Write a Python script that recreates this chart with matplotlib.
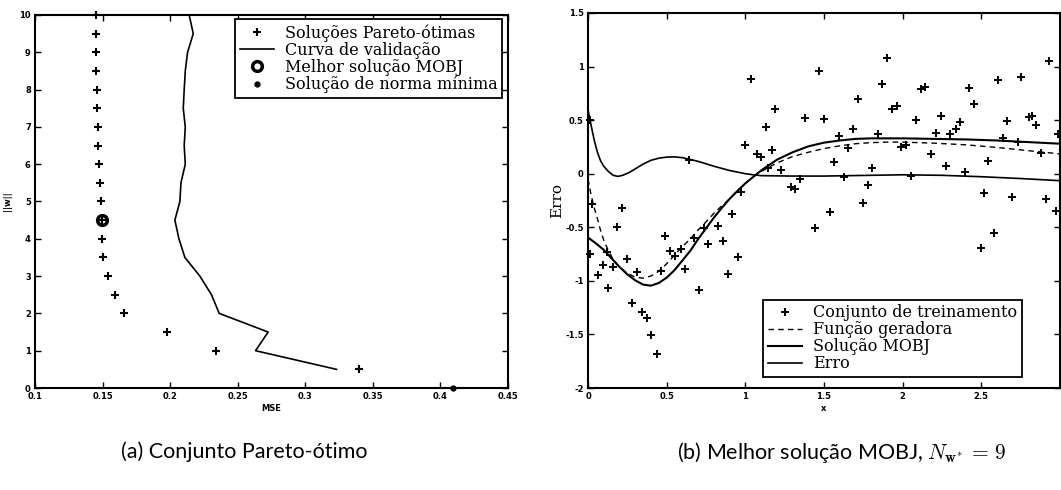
import matplotlib
matplotlib.use("Agg")
import matplotlib.pyplot as plt

plt.rcParams["mathtext.fontset"] = "cm"

# ---------------- (a) Pareto set ----------------
pareto_norm = [10, 9.5, 9, 8.5, 8, 7.5, 7, 6.5, 6, 5.5, 5, 4.5, 4, 3.5, 3, 2.5, 2, 1.5, 1, 0.5]
pareto_mse = [0.1449, 0.1449, 0.1450, 0.1453, 0.1456, 0.1458, 0.1463, 0.1466, 0.1470, 0.1480,
              0.1486, 0.1493, 0.1493, 0.1500, 0.1542, 0.1592, 0.1660, 0.1980, 0.2336, 0.3396]

valid_norm = [10, 9.5, 9, 8.5, 8, 7.5, 7, 6.5, 6, 5.5, 5, 4.5, 4, 3.5, 3, 2.5, 2, 1.5, 1, 0.5]
valid_mse = [0.2141, 0.2171, 0.2129, 0.2112, 0.2104, 0.2097, 0.2112, 0.2104, 0.2112, 0.2080,
             0.2072, 0.2035, 0.2065, 0.2109, 0.2220, 0.2306, 0.2363, 0.2725, 0.2632, 0.3231]

best_mse, best_norm = 0.1493, 4.5
minnorm_mse, minnorm_norm = 0.4093, 0.0

a_xticks = [0.1, 0.15, 0.2, 0.25, 0.3, 0.35, 0.4, 0.45]
a_xticklabels = ["0.1", "0.15", "0.2", "0.25", "0.3", "0.35", "0.4", "0.45"]
a_yticks = [0, 1, 2, 3, 4, 5, 6, 7, 8, 9, 10]

# ---------------- (b) Best MOBJ solution ----------------
train_x = [0.010, 0.025, 0.010, 0.066, 0.097, 0.119, 0.130, 0.160, 0.183, 0.215,
           0.247, 0.280, 0.312, 0.342, 0.372, 0.403, 0.436, 0.466, 0.491, 0.522,
           0.551, 0.590, 0.615, 0.640, 0.675, 0.705, 0.735, 0.765, 0.828, 0.857,
           0.891, 0.917, 0.952, 0.975, 1.000, 1.034, 1.072, 1.097, 1.132, 1.143,
           1.168, 1.190, 1.228, 1.293, 1.315, 1.350, 1.378, 1.445, 1.470, 1.498,
           1.536, 1.562, 1.593, 1.625, 1.655, 1.687, 1.714, 1.751, 1.782, 1.808,
           1.842, 1.868, 1.900, 1.932, 1.964, 1.991, 2.023, 2.055, 2.087, 2.114,
           2.144, 2.183, 2.210, 2.242, 2.274, 2.304, 2.336, 2.366, 2.395, 2.423,
           2.453, 2.496, 2.519, 2.544, 2.583, 2.604, 2.637, 2.666, 2.698, 2.731,
           2.750, 2.800, 2.820, 2.850, 2.880, 2.910, 2.930, 2.972, 2.990]
train_y = [0.50, -0.28, -0.75, -0.95, -0.85, -0.73, -1.07, -0.87, -0.50, -0.32,
           -0.80, -1.21, -0.92, -1.29, -1.35, -1.51, -1.68, -0.91, -0.58, -0.72,
           -0.77, -0.70, -0.89, 0.13, -0.60, -1.09, -0.51, -0.66, -0.49, -0.63,
           -0.94, -0.38, -0.78, -0.17, 0.27, 0.88, 0.18, 0.16, 0.44, 0.05,
           0.22, 0.60, 0.03, -0.12, -0.14, -0.05, 0.52, -0.51, 0.96, 0.51,
           -0.36, 0.11, 0.355, -0.03, 0.24, 0.42, 0.70, -0.27, -0.11, 0.05,
           0.37, 0.84, 1.08, 0.60, 0.63, 0.245, 0.27, -0.02, 0.50, 0.79,
           0.81, 0.18, 0.38, 0.54, 0.07, 0.375, 0.42, 0.48, 0.02, 0.80,
           0.65, -0.69, -0.18, 0.12, -0.55, 0.87, 0.335, 0.49, -0.22, 0.30,
           0.90, 0.525, 0.54, 0.45, 0.19, -0.24, 1.05, -0.35, 0.375]

gen_x = [0.0, 0.02, 0.04, 0.06, 0.08, 0.10, 0.13, 0.16, 0.20, 0.25, 0.30, 0.35, 0.40,
         0.45, 0.50, 0.55, 0.60, 0.65, 0.70, 0.75, 0.80, 0.85, 0.90, 0.95, 1.00, 1.05,
         1.10, 1.20, 1.30, 1.40, 1.50, 1.60, 1.70, 1.80, 1.90, 2.00, 2.20, 2.40, 2.60,
         2.80, 3.00]
gen_y = [-0.05, -0.20, -0.32, -0.42, -0.53, -0.62, -0.72, -0.80, -0.87, -0.93, -0.965,
         -0.975, -0.955, -0.91, -0.84, -0.76, -0.68, -0.61, -0.525, -0.45, -0.37, -0.30,
         -0.235, -0.16, -0.09, -0.03, 0.02, 0.10, 0.16, 0.20, 0.235, 0.26, 0.28, 0.29,
         0.295, 0.295, 0.285, 0.27, 0.245, 0.215, 0.185]

mobj_x = [0.0, 0.05, 0.10, 0.15, 0.20, 0.25, 0.30, 0.35, 0.40, 0.45, 0.50, 0.55, 0.60,
          0.65, 0.70, 0.75, 0.80, 0.85, 0.90, 0.95, 1.00, 1.05, 1.10, 1.20, 1.30, 1.40,
          1.50, 1.60, 1.70, 1.80, 2.00, 2.20, 2.40, 2.60, 2.80, 3.00]
mobj_y = [-0.595, -0.65, -0.71, -0.79, -0.87, -0.94, -0.995, -1.035, -1.045, -1.02,
          -0.97, -0.90, -0.81, -0.72, -0.61, -0.51, -0.41, -0.32, -0.235, -0.16, -0.09,
          -0.03, 0.03, 0.13, 0.20, 0.255, 0.29, 0.31, 0.325, 0.33, 0.33, 0.325, 0.32,
          0.31, 0.295, 0.28]

err_x = [0.0, 0.02, 0.04, 0.06, 0.08, 0.10, 0.13, 0.16, 0.19, 0.22, 0.26, 0.30, 0.35,
         0.40, 0.45, 0.50, 0.55, 0.60, 0.65, 0.70, 0.75, 0.80, 0.85, 0.90, 0.95, 1.00,
         1.05, 1.10, 1.30, 1.50, 2.00, 2.25, 2.50, 2.75, 3.00]
err_y = [0.60, 0.45, 0.31, 0.20, 0.12, 0.07, 0.02, -0.015, -0.025, -0.015, 0.01, 0.045,
         0.09, 0.125, 0.145, 0.155, 0.157, 0.15, 0.133, 0.115, 0.093, 0.07, 0.05, 0.03,
         0.015, 0.0, -0.01, -0.018, -0.022, -0.022, -0.01, -0.015, -0.028, -0.045, -0.065]

b_xticks = [0, 0.5, 1, 1.5, 2, 2.5, 3]
b_xticklabels = ["0", "0.5", "1", "1.5", "2", "2.5", ""]
b_yticks = [-2, -1.5, -1, -0.5, 0, 0.5, 1, 1.5]
b_yticklabels = ["-2", "-1.5", "-1", "-0.5", "0", "0.5", "1", "1.5"]

W, H = 1061, 490
fig = plt.figure(figsize=(W / 100, H / 100), dpi=100)


def px_axes(left, top, right, bottom):
    return fig.add_axes([left / W, 1 - bottom / H, (right - left) / W, (bottom - top) / H])


tick_font = dict(family="DejaVu Sans", size=6, weight="bold")
legend_font = dict(family="DejaVu Serif", size=11.5)
legend_kw = dict(prop=legend_font, frameon=True, fancybox=False, framealpha=1,
                 edgecolor="black", handlelength=2.1, handletextpad=0.7,
                 labelspacing=0.0, borderpad=0.3, borderaxespad=0)


def style_axes(ax):
    for s in ax.spines.values():
        s.set_linewidth(1.5)
    ax.tick_params(direction="in", length=4, width=1.0, top=True, right=True,
                   pad=3, labelsize=6)
    for lab in ax.get_xticklabels() + ax.get_yticklabels():
        lab.set_fontfamily("DejaVu Sans")
        lab.set_fontweight("bold")


# ---- panel (a) ----
ax1 = px_axes(35, 15, 508, 388)
ax1.plot(pareto_mse, pareto_norm, linestyle="none", marker="+", color="black",
         markersize=6, markeredgewidth=1.5, clip_on=False, label="Soluções Pareto-ótimas")
ax1.plot(valid_mse, valid_norm, color="black", linewidth=1.2, label="Curva de validação")
ax1.plot([best_mse], [best_norm], linestyle="none", marker="o", markersize=7,
         markerfacecolor="none", markeredgecolor="black", markeredgewidth=2.5,
         label="Melhor solução MOBJ")
ax1.plot([minnorm_mse], [minnorm_norm], linestyle="none", marker="o", markersize=3.5,
         color="black", clip_on=False, label="Solução de norma mínima")
ax1.set_xlim(0.1, 0.45)
ax1.set_ylim(0, 10)
ax1.set_xticks(a_xticks)
ax1.set_xticklabels(a_xticklabels)
ax1.set_yticks(a_yticks)
style_axes(ax1)
ax1.set_xlabel("MSE", fontdict=tick_font, labelpad=2)
ax1.set_ylabel("||w||", fontdict=tick_font, labelpad=5)
leg1 = ax1.legend(loc="upper right", bbox_to_anchor=(0.988, 0.988), **legend_kw)
leg1.get_frame().set_linewidth(1.3)

# ---- panel (b) ----
ax2 = px_axes(588, 13, 1060, 388)
ax2.plot(train_x, train_y, linestyle="none", marker="+", color="black",
         markersize=6, markeredgewidth=1.4, clip_on=False, label="Conjunto de treinamento")
ax2.plot(gen_x, gen_y, color="black", linewidth=1.0, linestyle=(0, (4, 3)),
         label="Função geradora")
ax2.plot(mobj_x, mobj_y, color="black", linewidth=1.5, label="Solução MOBJ")
ax2.plot(err_x, err_y, color="black", linewidth=1.2, label="Erro")
ax2.set_xlim(0, 3)
ax2.set_ylim(-2, 1.5)
ax2.set_xticks(b_xticks)
ax2.set_xticklabels(b_xticklabels)
ax2.set_yticks(b_yticks)
ax2.set_yticklabels(b_yticklabels)
style_axes(ax2)
ax2.set_xlabel("x", fontdict=tick_font, labelpad=2)
ax2.set_ylabel("Erro", family="DejaVu Serif", size=11, labelpad=1)
leg2 = ax2.legend(loc="lower right", bbox_to_anchor=(0.919, 0.029), **legend_kw)
leg2.get_frame().set_linewidth(1.3)

# ---- captions ----
fig.text(244 / W, 1 - 452 / H, "(a) Conjunto Pareto-ótimo", ha="center", va="center",
         family="Lato", size=15.5)
fig.text(842 / W, 1 - 452 / H, r"(b) Melhor solução MOBJ, $N_{\mathbf{w}^{*}}\, =\, 9$",
         ha="center", va="center", family="Lato", size=15.5)

fig.savefig("out.png", dpi=100)
